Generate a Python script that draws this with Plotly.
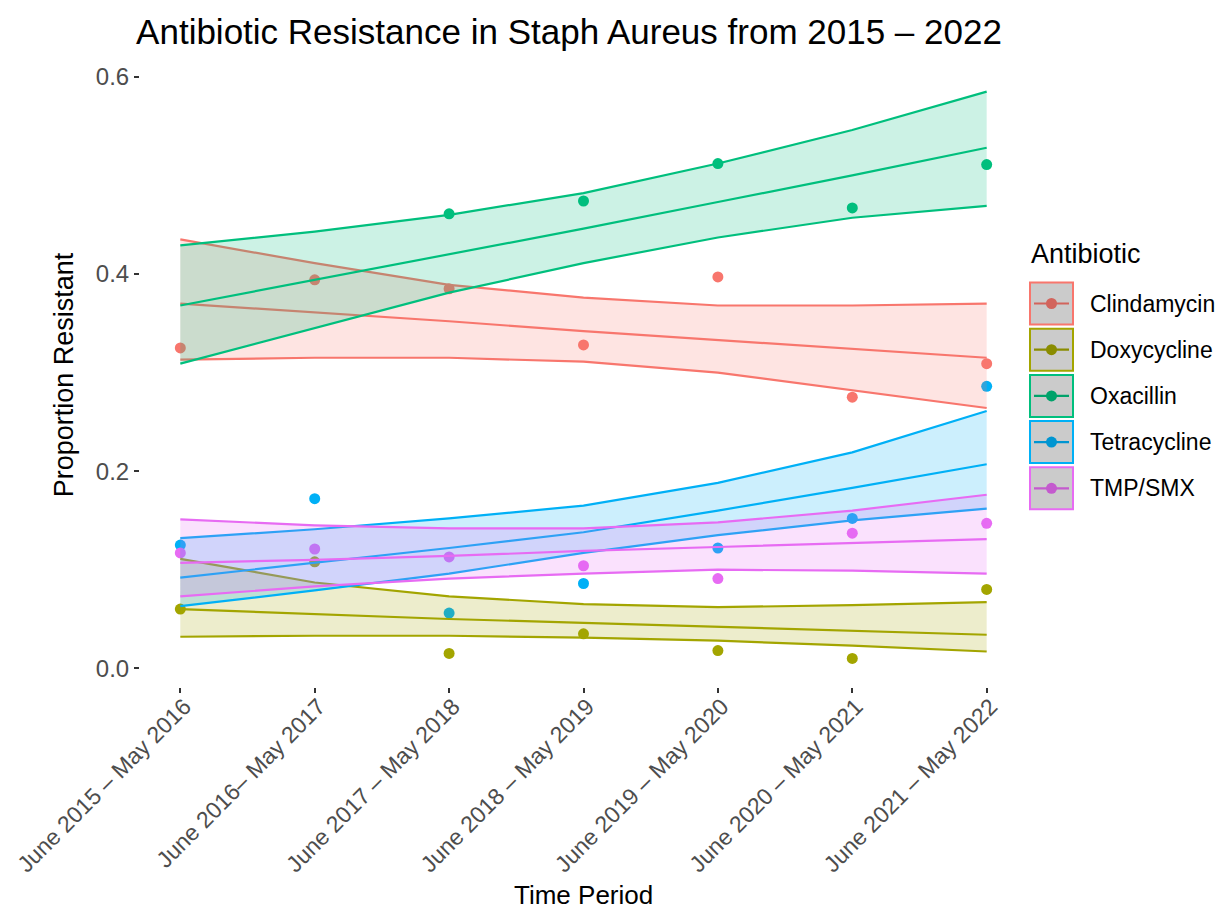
import plotly.graph_objects as go

periods = ["June 2015 – May 2016", "June 2016– May 2017", "June 2017 – May 2018",
           "June 2018 – May 2019", "June 2019 – May 2020", "June 2020 – May 2021",
           "June 2021 – May 2022"]
antibiotics = ["Clindamycin", "Doxycycline", "Oxacillin", "Tetracycline", "TMP/SMX"]
colors = ["#F8766D", "#A3A500", "#00BF7D", "#00B0F6", "#E76BF3"]

clinda_obs = [0.325, 0.394, 0.385, 0.328, 0.397, 0.275, 0.309]
clinda_fit = [0.370, 0.361, 0.352, 0.342, 0.333, 0.324, 0.315]
clinda_lo = [0.313, 0.315, 0.315, 0.311, 0.300, 0.282, 0.264]
clinda_hi = [0.435, 0.411, 0.389, 0.376, 0.368, 0.368, 0.370]

doxy_obs = [0.060, 0.108, 0.015, 0.035, 0.018, 0.010, 0.080]
doxy_fit = [0.060, 0.055, 0.050, 0.046, 0.042, 0.038, 0.034]
doxy_lo = [0.032, 0.033, 0.033, 0.031, 0.028, 0.023, 0.017]
doxy_hi = [0.111, 0.087, 0.073, 0.065, 0.062, 0.064, 0.067]

oxa_obs = [None, None, 0.461, 0.474, 0.512, 0.467, 0.511]
oxa_fit = [0.368, 0.394, 0.420, 0.446, 0.473, 0.500, 0.528]
oxa_lo = [0.309, 0.345, 0.381, 0.411, 0.437, 0.457, 0.469]
oxa_hi = [0.429, 0.443, 0.460, 0.482, 0.512, 0.546, 0.585]

tetra_obs = [0.125, 0.172, 0.056, 0.086, 0.122, 0.152, 0.286]
tetra_fit = [0.092, 0.107, 0.122, 0.138, 0.160, 0.183, 0.207]
tetra_lo = [0.063, 0.079, 0.096, 0.117, 0.135, 0.150, 0.162]
tetra_hi = [0.132, 0.141, 0.152, 0.165, 0.188, 0.219, 0.261]

tmp_obs = [0.117, 0.121, 0.113, 0.104, 0.091, 0.137, 0.147]
tmp_fit = [0.107, 0.110, 0.114, 0.119, 0.123, 0.127, 0.131]
tmp_lo = [0.073, 0.083, 0.091, 0.096, 0.100, 0.099, 0.096]
tmp_hi = [0.151, 0.145, 0.142, 0.142, 0.148, 0.160, 0.176]

y_ticks = [0.0, 0.2, 0.4, 0.6]
y_tick_labels = ["0.0", "0.2", "0.4", "0.6"]

obs = [clinda_obs, doxy_obs, oxa_obs, tetra_obs, tmp_obs]
fits = [clinda_fit, doxy_fit, oxa_fit, tetra_fit, tmp_fit]
los = [clinda_lo, doxy_lo, oxa_lo, tetra_lo, tmp_lo]
his = [clinda_hi, doxy_hi, oxa_hi, tetra_hi, tmp_hi]

FONT = "Liberation Sans, Arial, Helvetica, sans-serif"
OFF = 8  # default page body margin
W, H = 1224 - 2 * OFF, 921 - 2 * OFF
ML, MT = 140 - OFF, 63 - OFF
PW, PH = 887, 624
MR = W - ML - PW
MB = H - MT - PH


def rgba(hexc, a):
    h = hexc.lstrip("#")
    r, g, b = int(h[0:2], 16), int(h[2:4], 16), int(h[4:6], 16)
    return f"rgba({r},{g},{b},{a})"


def darker(hexc, f=0.85):
    h = hexc.lstrip("#")
    r, g, b = int(h[0:2], 16), int(h[2:4], 16), int(h[4:6], 16)
    return f"rgb({int(r*f)},{int(g*f)},{int(b*f)})"


xs = list(range(len(periods)))
fig = go.Figure()

# points first (ribbons are drawn over them)
for name, col, o in zip(antibiotics, colors, obs):
    fig.add_trace(go.Scatter(x=xs, y=o, mode="markers", name=name,
                             marker=dict(size=11, color=col), showlegend=False))

for name, col, f, lo, hi in zip(antibiotics, colors, fits, los, his):
    fig.add_trace(go.Scatter(x=xs + xs[::-1], y=hi + lo[::-1], mode="lines",
                             fill="toself", fillcolor=rgba(col, 0.2),
                             line=dict(width=0), hoverinfo="skip", showlegend=False))
    for series in (lo, f, hi):
        fig.add_trace(go.Scatter(x=xs, y=series, mode="lines",
                                 line=dict(color=col, width=2.2), showlegend=False))


def px2x(px):
    return (px - OFF - ML) / PW


def px2y(py):
    return (H - MB - (py - OFF)) / PH


shapes = []
annotations = []
annotations.append(dict(x=px2x(1029), y=px2y(254), xref="paper", yref="paper",
                        text="Antibiotic", showarrow=False, xanchor="left", yanchor="middle",
                        font=dict(family=FONT, size=27, color="black")))
annotations.append(dict(x=px2x(583), y=px2y(895), xref="paper", yref="paper",
                        text="Time Period", showarrow=False, xanchor="center", yanchor="middle",
                        font=dict(family=FONT, size=26, color="black")))
for i, (name, col) in enumerate(zip(antibiotics, colors)):
    cy = 303.5 + i * 46.2
    shapes.append(dict(type="rect", xref="paper", yref="paper",
                       x0=px2x(1030), x1=px2x(1073), y0=px2y(cy - 21), y1=px2y(cy + 21),
                       fillcolor="#CBCBCB", line=dict(color=col, width=2)))
    shapes.append(dict(type="line", xref="paper", yref="paper",
                       x0=px2x(1034), x1=px2x(1069), y0=px2y(cy), y1=px2y(cy),
                       line=dict(color=darker(col), width=2.2)))
    shapes.append(dict(type="circle", xref="paper", yref="paper",
                       x0=px2x(1051.5 - 5.5), x1=px2x(1051.5 + 5.5),
                       y0=px2y(cy + 5.5), y1=px2y(cy - 5.5),
                       fillcolor=darker(col), line=dict(width=0)))
    annotations.append(dict(x=px2x(1088), y=px2y(cy), xref="paper", yref="paper",
                            text=name, showarrow=False, xanchor="left", yanchor="middle",
                            font=dict(family=FONT, size=23, color="black")))

fig.update_layout(
    width=W, height=H,
    margin=dict(l=ML, r=MR, t=MT, b=MB, pad=0, autoexpand=False),
    paper_bgcolor="white", plot_bgcolor="white",
    showlegend=False,
    title=dict(text="Antibiotic Resistance in Staph Aureus from 2015 – 2022",
               x=(569 - OFF) / W, xanchor="center", y=1 - (32 - OFF) / H, yanchor="middle",
               xref="container", yref="container",
               font=dict(family=FONT, size=35, color="black")),
    xaxis=dict(range=[-0.3, 6.3], tickvals=xs, ticktext=periods, tickangle=-45,
               showgrid=False, zeroline=False, showline=False, automargin=False,
               ticklabeloverflow="allow", ticklabelstandoff=-9, ticklabelshift=4,
               ticks="outside", ticklen=5, tickwidth=1.5, tickcolor="#333333",
               tickfont=dict(family=FONT, size=23, color="#4D4D4D")),
    yaxis=dict(range=[-0.019, 0.614], tickvals=y_ticks, ticktext=y_tick_labels,
               showgrid=False, zeroline=False, showline=False, automargin=False,
               ticks="outside", ticklen=5, tickwidth=1.5, tickcolor="#333333",
               tickfont=dict(family=FONT, size=24, color="#4D4D4D"),
               title=dict(text="Proportion Resistant", standoff=14,
                          font=dict(family=FONT, size=27, color="black"))),
    shapes=shapes,
    annotations=annotations,
)

fig.write_html("out.html")
